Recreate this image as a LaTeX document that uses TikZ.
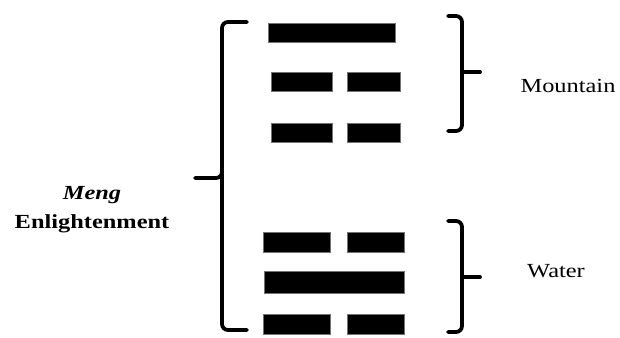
\documentclass[tikz,border=0pt]{standalone}
\usepackage{fontspec}
\setmainfont{Liberation Serif}
\begin{document}
\begin{tikzpicture}[x=1pt,y=-1pt,
  bar/.style={fill=black,draw=black!55,line width=1.2pt,inner sep=0pt,anchor=north west},
  brace/.style={line width=3.8pt,line cap=round,line join=round,rounded corners=6pt},
  lbl/.style={font=\fontsize{20}{22}\selectfont,align=center,inner sep=0pt}]
\useasboundingbox (0,0) rectangle (620,337);
% upper trigram: Mountain
\node[bar,minimum width=127pt,minimum height=19pt] (m1) at (268,23) {};
\node[bar,minimum width=61pt,minimum height=19pt] (m2l) at (271,72) {};
\node[bar,minimum width=53pt,minimum height=19pt] (m2r) at (347,72) {};
\node[bar,minimum width=61pt,minimum height=19pt] (m3l) at (271,123) {};
\node[bar,minimum width=53pt,minimum height=19pt] (m3r) at (347,123) {};
% lower trigram: Water
\node[bar,minimum width=67pt,minimum height=20pt] (w1l) at (263,232) {};
\node[bar,minimum width=57pt,minimum height=20pt] (w1r) at (347,232) {};
\node[bar,minimum width=140pt,minimum height=22pt] (w2) at (264,271) {};
\node[bar,minimum width=67pt,minimum height=20pt] (w3l) at (263,314) {};
\node[bar,minimum width=57pt,minimum height=20pt] (w3r) at (347,314) {};
% large left brace
\draw[brace] (247,22) -- (222,22) -- (222,178) -- (195,178);
\draw[brace] (222,170) -- (222,330) -- (247,330);
% right braces
\draw[brace] (448,16) -- (462,16) -- (462,131) -- (448,131);
\draw[brace] (462,72) -- (480,72);
\draw[brace] (448,221) -- (462,221) -- (462,332) -- (448,332);
\draw[brace] (462,277) -- (480,277);
% labels
\node[lbl] (mountain) at (568,86) {\scalebox{1.22}[1]{Mountain}};
\node[lbl] (water) at (556,271) {\scalebox{1.22}[1]{Water}};
\node[lbl,font=\fontsize{20}{29}\selectfont\bfseries] (meng) at (92,210) {\scalebox{1.22}[1]{\itshape Meng}\\\scalebox{1.22}[1]{Enlightenment}};
\end{tikzpicture}
\end{document}
